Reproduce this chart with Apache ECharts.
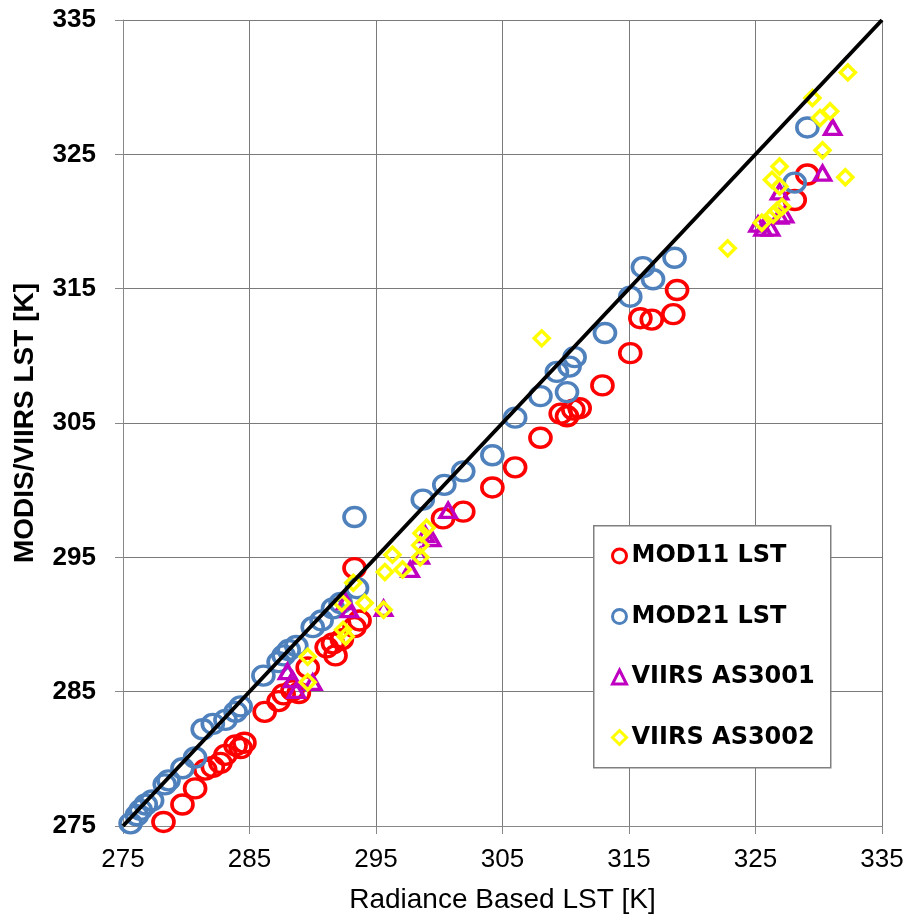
<!DOCTYPE html>
<html>
<head>
<meta charset="utf-8">
<script src="https://cdn.jsdelivr.net/npm/echarts@6/dist/echarts.min.js"></script>
<style>
html,body{margin:0;padding:0;background:#fff;}
#chart{width:909px;height:920px;}
</style>
</head>
<body>
<div id="chart"></div>
<script>
// Axis ticks
var axisTicks = [275, 285, 295, 305, 315, 325, 335];

// MOD11 LST [radiance LST, product LST]
var mod11 = [
  [278.2,275.3],[279.7,276.6],[280.7,277.8],[281.5,279.2],[282.1,279.4],[282.7,279.7],
  [283.1,280.3],[283.9,281.0],[284.3,280.8],[284.6,281.2],[286.2,283.5],[287.3,284.3],
  [287.7,284.8],[288.4,285.1],[288.9,284.9],[289.6,286.8],[291.1,288.3],[291.6,288.6],
  [291.8,287.7],[292.3,288.9],[293.3,289.8],[293.7,290.3],[293.3,294.2],[300.3,297.9],
  [301.9,298.4],[304.2,300.2],[306.0,301.7],[308.0,303.9],[309.6,305.7],[310.1,305.5],
  [310.6,306.0],[311.1,306.1],[312.9,307.8],[315.1,310.2],[315.9,312.8],[316.8,312.7],
  [318.5,313.1],[318.8,314.9],[329.1,323.5],[328.1,321.6]
];

// MOD21 LST
var mod21 = [
  [275.6,275.2],[276.1,275.8],[276.4,276.2],[276.8,276.6],[277.3,276.9],[278.3,278.1],
  [278.6,278.4],[279.7,279.3],[280.7,280.1],[281.3,282.2],[282.1,282.6],[283.1,282.9],
  [283.9,283.5],[284.3,283.9],[286.1,286.2],[287.3,287.2],[287.7,287.7],[288.1,288.1],
  [288.7,288.4],[290.0,289.8],[290.7,290.3],[291.6,291.2],[292.2,291.6],[293.5,292.7],
  [293.3,298.0],[298.7,299.3],[300.4,300.4],[301.9,301.4],[304.2,302.6],[306.0,305.4],
  [308.0,307.0],[309.3,308.8],[310.1,307.3],[310.3,309.2],[310.7,309.9],[313.1,311.7],
  [315.1,314.4],[316.1,316.6],[316.9,315.7],[318.6,317.3],[329.1,327.0],[328.1,322.9]
];

// VIIRS AS3001
var viirs3001 = [
  [288.0,286.5],[288.4,285.9],[288.7,285.1],[290.0,285.7],[292.6,291.7],[292.9,291.1],
  [295.6,291.2],[297.7,294.1],[298.5,295.1],[298.9,296.7],[299.4,296.4],[300.7,298.5],
  [325.2,319.8],[325.6,319.5],[326.2,319.5],[326.9,320.4],[327.3,320.5],[326.9,322.2],
  [330.3,323.6],[331.1,327.0]
];

// VIIRS AS3002
var viirs3002 = [
  [289.6,285.7],[289.6,287.6],[292.4,289.6],[292.6,289.1],[292.3,291.6],[293.2,293.1],
  [294.1,291.6],[295.6,291.1],[295.7,293.9],[296.3,295.2],[297.1,294.1],[298.5,295.0],
  [298.5,295.9],[298.6,296.8],[299.0,297.2],[308.1,311.3],[322.8,318.0],[325.5,319.9],
  [326.4,320.5],[326.7,320.8],[327.1,321.1],[326.9,322.6],[326.3,323.1],[326.9,324.1],
  [330.3,325.3],[332.1,323.3],[329.5,329.2],[330.9,328.2],[330.1,327.7],[332.3,331.1]
];

// 1:1 line
var oneToOne = [[275,275],[335,335]];

var seriesNames = ['MOD11 LST','MOD21 LST','VIIRS AS3001','VIIRS AS3002'];
var seriesColors = ['#FF0000','#4F81BD','#C000C0','#FFFF00'];

var chart = echarts.init(document.getElementById('chart'));
var libFont = '"Liberation Sans", Arial, sans-serif';
var djvFont = '"DejaVu Sans", sans-serif';

function axisCommon() {
  return {
    type: 'value', min: 275, max: 335, interval: 10,
    axisLine: {show: true, lineStyle: {color: '#888', width: 1}},
    axisTick: {show: true, length: 8, lineStyle: {color: '#888', width: 1}},
    splitLine: {show: true, lineStyle: {color: '#7a7a7a', width: 1}}
  };
}

var xAxis = axisCommon();
xAxis.name = 'Radiance Based LST [K]';
xAxis.nameLocation = 'middle';
xAxis.nameGap = 60;
xAxis.nameTextStyle = {fontFamily: libFont, fontSize: 28, color: '#000', fontWeight: 'normal'};
xAxis.axisLabel = {fontFamily: libFont, fontSize: 26, color: '#000', margin: 21};

var yAxis = axisCommon();
yAxis.name = 'MODIS/VIIRS LST [K]';
yAxis.nameLocation = 'middle';
yAxis.nameGap = 84;
yAxis.nameTextStyle = {fontFamily: libFont, fontSize: 28, color: '#000', fontWeight: 'bold'};
yAxis.axisLabel = {fontFamily: libFont, fontSize: 26, color: '#000', fontWeight: 'bold', margin: 27};

var dataSets = [mod11, mod21, viirs3001, viirs3002];
var symbols = ['circle','circle','triangle','diamond'];
var sizes = [[21,19],[21,19],[16,14],[15,15]];

var series = dataSets.map(function (d, i) {
  return {
    name: seriesNames[i], type: 'scatter', data: d,
    symbol: symbols[i], symbolSize: sizes[i],
    itemStyle: {color: 'rgba(255,255,255,0)', borderColor: seriesColors[i], borderWidth: 3.5, opacity: 1},
    z: 2 + i * 0.1
  };
});
series.push({
  name: 'line', type: 'line', data: oneToOne, symbol: 'none',
  lineStyle: {color: '#000', width: 4}, z: 3, silent: true
});

chart.setOption({
  animation: false,
  backgroundColor: '#fff',
  grid: {left: 123, right: 27, top: 20, bottom: 94, containLabel: false},
  xAxis: xAxis,
  yAxis: yAxis,
  graphic: [{
    type: 'rect', left: 593, top: 525, z: 50,
    shape: {width: 237, height: 242},
    style: {fill: '#fff', stroke: '#808080', lineWidth: 1.5}
  }],
  legend: {
    orient: 'vertical', left: 606, top: 539, z: 60,
    itemWidth: 14, itemHeight: 14, itemGap: 36.5,
    textStyle: {fontFamily: djvFont, fontSize: 24, fontWeight: 'bold', color: '#000', padding: [0,0,0,0]},
    data: seriesNames.map(function (n, i) {
      return {name: n, icon: symbols[i],
        itemStyle: {color: 'rgba(255,255,255,0)', borderColor: seriesColors[i], borderWidth: 3}};
    })
  },
  series: series
});
</script>
</body>
</html>
